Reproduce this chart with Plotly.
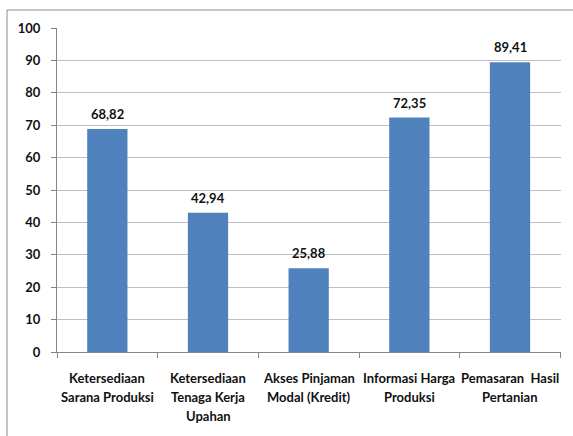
import plotly.graph_objects as go

categories = [
    "Ketersediaan<br>Sarana Produksi",
    "Ketersediaan<br>Tenaga Kerja<br>Upahan",
    "Akses Pinjaman<br>Modal (Kredit)",
    "Informasi Harga<br>Produksi",
    "Pemasaran  Hasil<br>Pertanian",
]
values = [68.82, 42.94, 25.88, 72.35, 89.41]
y_ticks = [0, 10, 20, 30, 40, 50, 60, 70, 80, 90, 100]

W, H = 573, 436
L, R, T, B = 57, 12, 28, 84
plot_w = W - L - R
plot_h = H - T - B

FONT = "Lato"
FS = 13
TEXT = "#111111"
BAR = "#4F81BD"

keys = [c.replace("<br>", " ") for c in categories]

fig = go.Figure(
    go.Bar(
        x=keys,
        y=values,
        marker=dict(color=BAR, line=dict(width=0)),
        width=0.4,
        hoverinfo="x+y",
    )
)

annotations = []
# value labels above each bar
for k, v in zip(keys, values):
    annotations.append(dict(
        x=k, y=v, xref="x", yref="y",
        text="<b>%s</b>" % f"{v:.2f}".replace(".", ","),
        showarrow=False, yanchor="middle", yshift=15,
        font=dict(family=FONT, size=FS, color=TEXT),
    ))
# category labels, one annotation per line for a looser line spacing
for k, c in zip(keys, categories):
    for i, line in enumerate(c.split("<br>")):
        annotations.append(dict(
            x=k, y=0, xref="x", yref="paper",
            text="<b>%s</b>" % line,
            showarrow=False, yanchor="middle", yshift=-(26 + 19 * i),
            font=dict(family=FONT, size=FS, color=TEXT),
        ))

# outer chart frame
shapes = [dict(
    type="rect", xref="paper", yref="paper",
    x0=(7 - L) / plot_w, x1=(W + 10 - L) / plot_w,
    y0=-(H + 10 - (T + plot_h)) / plot_h, y1=1 + (T - 10) / plot_h,
    line=dict(color="#8C8C8C", width=1), fillcolor="rgba(0,0,0,0)",
    layer="below",
)]

fig.update_layout(
    width=W, height=H,
    margin=dict(l=L, r=R, t=T, b=B),
    paper_bgcolor="white", plot_bgcolor="white",
    showlegend=False,
    annotations=annotations,
    shapes=shapes,
    font=dict(family=FONT, size=FS, color=TEXT),
)
fig.update_xaxes(
    type="category",
    showticklabels=False,
    showgrid=False,
    showline=True, linecolor="#868686", linewidth=1,
    ticks="outside", tickson="boundaries", ticklen=5, tickcolor="#868686",
)
fig.update_yaxes(
    range=[0, 100],
    tickvals=y_ticks,
    ticktext=["<b>%d</b>" % t for t in y_ticks],
    showgrid=True, gridcolor="#BFBFBF", gridwidth=1,
    showline=True, linecolor="#868686", linewidth=1,
    ticks="outside", ticklen=5, tickcolor="#868686",
    ticklabelstandoff=8,
    zeroline=False,
    tickfont=dict(family=FONT, size=FS, color=TEXT),
)

fig.write_html("out.html")
